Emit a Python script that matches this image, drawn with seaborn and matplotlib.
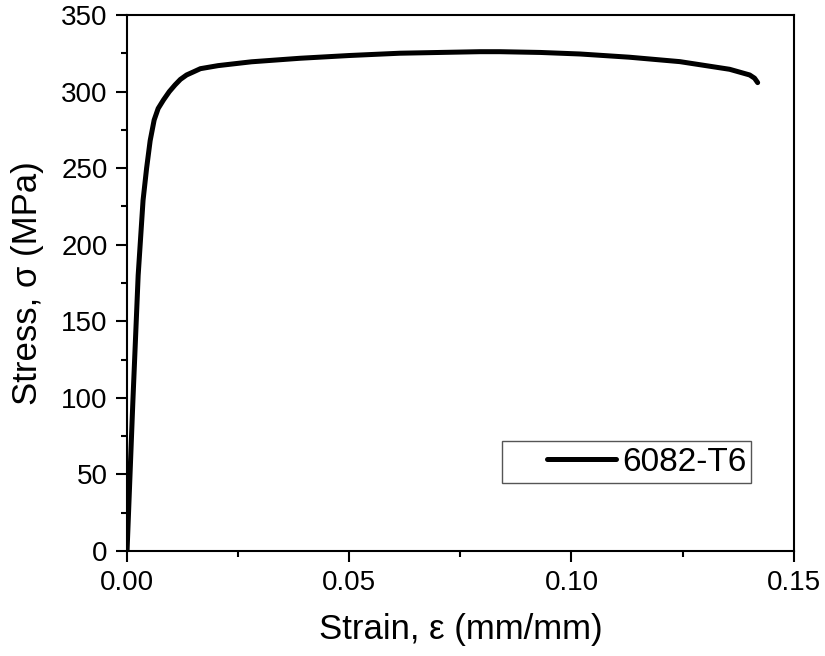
import matplotlib
matplotlib.use('Agg')
import matplotlib.pyplot as plt
import matplotlib.patches as patches
from matplotlib.ticker import MultipleLocator
import seaborn as sbrn
import pandas as pd

# Stress-strain curve
strain = [0.0, 0.0013, 0.0025, 0.0036, 0.0044, 0.0052, 0.0061, 0.007, 0.0082, 0.0095,
          0.0108, 0.012, 0.0134, 0.015, 0.0165, 0.0205, 0.028, 0.0389, 0.05, 0.0614,
          0.0794, 0.0839, 0.093, 0.1019, 0.113, 0.1244, 0.1356, 0.1401, 0.1412, 0.1419]
stress = [0.0, 97, 180, 229, 250, 268, 281.5, 289, 294.6, 300,
          304.4, 308, 310.9, 313, 315, 317, 319.5, 321.8, 323.6, 325.1,
          326.1, 326.1, 325.6, 324.6, 322.5, 319.6, 314.6, 310.9, 308.8, 305.9]
series_name = '6082-T6'

df = pd.DataFrame({'strain': strain, 'stress': stress})

sbrn.set_style('ticks')
plt.rcParams['font.family'] = ['Liberation Sans', 'DejaVu Sans']
plt.rcParams['text.color'] = 'black'
plt.rcParams['axes.labelcolor'] = 'black'
plt.rcParams['xtick.color'] = 'black'
plt.rcParams['ytick.color'] = 'black'

fig = plt.figure(figsize=(8.25, 6.56), dpi=100)
ax = fig.add_axes([0.154, 0.160, 0.808, 0.817])

sbrn.lineplot(data=df, x='strain', y='stress', color='black', linewidth=3.6,
              label=series_name, ax=ax, sort=False)

# Axes limits and ticks
ax.set_xlim(0, 0.15)
ax.set_ylim(0, 350)
ax.xaxis.set_major_locator(MultipleLocator(0.05))
ax.xaxis.set_minor_locator(MultipleLocator(0.025))
ax.yaxis.set_major_locator(MultipleLocator(50))
ax.yaxis.set_minor_locator(MultipleLocator(25))
ax.set_xticks([0, 0.05, 0.10, 0.15])
ax.set_xticklabels(['0.00', '0.05', '0.10', '0.15'])
ax.tick_params(which='major', direction='out', length=8, width=1.5, labelsize=20, pad=6)
ax.tick_params(which='minor', direction='out', length=4, width=1.5)
for s in ax.spines.values():
    s.set_linewidth(1.5)
    s.set_color('black')

ax.set_xlabel('Strain, \u03b5 (mm/mm)', fontsize=25, labelpad=12)
ax.set_ylabel('Stress, \u03c3 (MPa)', fontsize=25, labelpad=12)

# Legend without own frame, then a plain rectangle as its box
leg = ax.legend(frameon=False, loc='center right', bbox_to_anchor=(0.9295, 0.166),
                fontsize=24, handlelength=2.05, handletextpad=0.2,
                borderpad=0, borderaxespad=0)
rect = patches.Rectangle((0.562, 0.127), 0.374, 0.078, transform=ax.transAxes,
                         linewidth=1, edgecolor='#555555', facecolor='none')
ax.add_patch(rect)

plt.savefig('out.png', dpi=100)
plt.close(fig)
